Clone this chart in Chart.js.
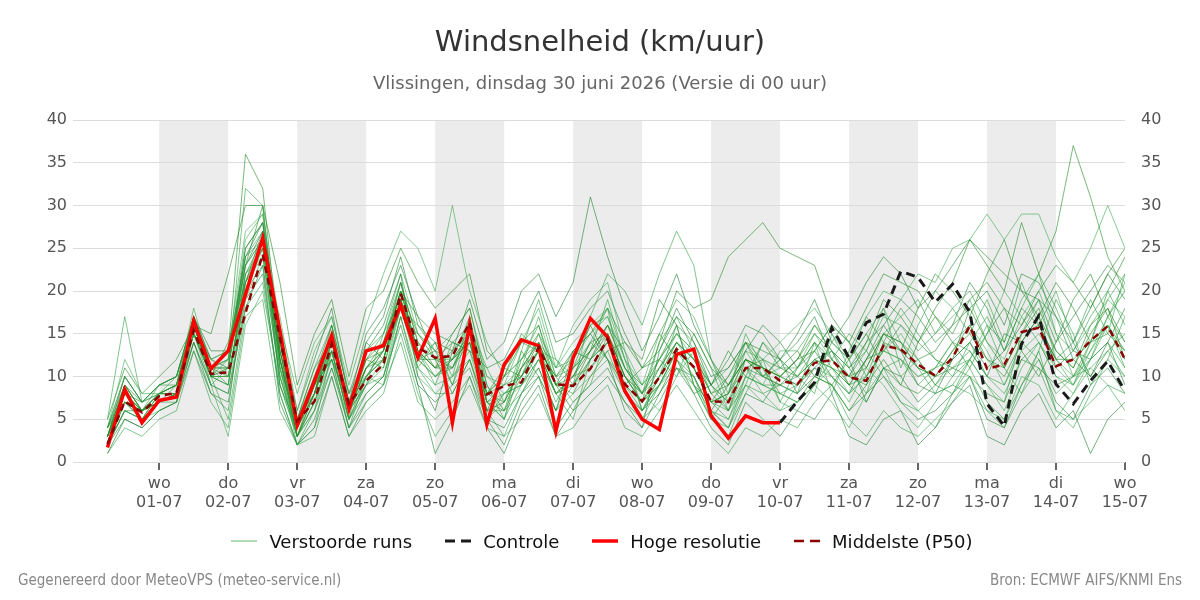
<!DOCTYPE html>
<html>
<head>
<meta charset="utf-8">
<script src="https://cdn.jsdelivr.net/npm/chart.js@4.4.1/dist/chart.umd.min.js"></script>
<style>
  body { margin: 0; background: #fff; font-family: "DejaVu Sans", sans-serif; }
  #wrap { position: relative; width: 1200px; height: 600px; }
  #chart { position: absolute; left: 0; top: 0; }
  .title { position: absolute; left: 0; width: 1200px; text-align: center; }
  #t1 { top: 24px; font-size: 29px; line-height: 34px; color: #333; }
  #t2 { top: 73px; font-size: 18px; line-height: 20px; color: #666; }
  .foot { position: absolute; top: 571px; font-size: 15px; line-height: 18px; color: #888;
          font-family: "DejaVu Sans Condensed", "DejaVu Sans", sans-serif; font-stretch: condensed; }
  #legend { position: absolute; top: 530px; left: 2px; width: 1200px; height: 22px;
            display: flex; justify-content: center; align-items: center; gap: 33px;
            font-size: 18px; color: #111; }
  #legend .item { display: flex; align-items: center; white-space: nowrap; }
  #legend svg { margin-right: 12px; }
</style>
</head>
<body>
<div id="wrap">
  <canvas id="chart" width="1200" height="600"></canvas>
  <div class="title" id="t1">Windsnelheid (km/uur)</div>
  <div class="title" id="t2">Vlissingen, dinsdag 30 juni 2026 (Versie di 00 uur)</div>
  <div id="legend"></div>
  <div class="foot" style="left:18px">Gegenereerd door MeteoVPS (meteo-service.nl)</div>
  <div class="foot" style="right:18px">Bron: ECMWF AIFS/KNMI Ens</div>
</div>
<script>
// time axis in hours since 30-06 00:00, one value every 6 hours from +6h
const hours = [];
for (let h = 6; h <= 360; h += 6) hours.push(h);

const tickHours = [24, 48, 72, 96, 120, 144, 168, 192, 216, 240, 264, 288, 312, 336, 360];
const dayNames = ['wo', 'do', 'vr', 'za', 'zo', 'ma', 'di', 'wo', 'do', 'vr', 'za', 'zo', 'ma', 'di', 'wo'];
const dayDates = ['01-07', '02-07', '03-07', '04-07', '05-07', '06-07', '07-07', '08-07',
                  '09-07', '10-07', '11-07', '12-07', '13-07', '14-07', '15-07'];
const shadedDays = [[24, 48], [72, 96], [120, 144], [168, 192], [216, 240], [264, 288], [312, 336]];

// hoge resolutie: +6h .. +240h
const hres = [1.7, 8.5, 4.6, 7.2, 7.6, 16.5, 10.9, 13.0, 19.6, 26.2,
              15.3, 4.3, 9.5, 14.8, 6.2, 13.0, 13.6, 18.3, 12.2, 16.8,
              4.6, 16.1, 4.4, 11.4, 14.3, 13.6, 3.6, 12.2, 16.8, 14.6,
              8.3, 5.0, 3.8, 12.6, 13.2, 5.4, 2.8, 5.4, 4.6, 4.6];
// controle: +240h .. +360h
const controlStart = 240;
const control = [4.6, 7.1, 9.3, 15.7, 12.2, 16.3, 17.3, 22.3, 21.6, 18.7, 20.8,
                 17.5, 6.8, 4.2, 13.8, 17.1, 9.1, 6.8, 9.5, 11.8, 8.3];
// mediaan van de runs
const p50 = [2.1, 7.1, 5.8, 7.7, 8.1, 15.4, 10.3, 10.5, 17.4, 24.3,
             14.5, 4.8, 7.1, 13.8, 6.8, 9.5, 11.4, 19.7, 13.4, 12.2,
             12.4, 16.3, 7.9, 8.9, 9.3, 13.4, 9.1, 8.9, 10.9, 14.4,
             9.1, 7.1, 9.9, 13.2, 11.1, 7.1, 7.0, 11.0, 11.0, 9.5,
             9.1, 11.6, 11.9, 9.9, 9.5, 13.6, 13.2, 11.4, 10.1, 12.2,
             15.9, 10.9, 11.4, 15.2, 15.7, 11.2, 12.0, 14.2, 15.9, 12.0];

// verstoorde runs (schatting per run)
const runs = [
  [3,9,6,8,9,16,11,13,36,32, 13,3,8,15,6,11,13,21,14,11, 15,18,9,6,12,15,9,8,12,15, 10,7,11,14,12,8,6,12,10,9, 11,14,12,9,12,15,14,11,10,13, 16,12,10,14,17,13,11,16,18,12],
  [5,17,7,9,10,17,9,11,32,30, 11,2,4,13,5,9,12,18,12,14, 10,17,7,5,9,13,12,10,14,18, 8,5,9,13,10,5,3,8,12,10, 9,12,13,11,8,14,18,15,12,10, 14,17,13,18,22,15,10,12,17,14],
  [1,5,4,6,7,14,8,6,21,27, 9,4,9,12,7,13,16,22,10,6, 13,15,5,4,8,11,6,13,15,12, 6,4,13,18,14,9,12,16,15,12, 8,10,14,12,7,11,10,7,9,12, 18,20,16,22,21,17,12,10,14,9],
  [2,7,5,8,8,15,12,10,19,24, 17,6,13,17,8,10,9,17,15,13, 11,16,10,9,11,17,10,7,9,15, 11,8,6,10,13,6,4,10,9,8, 7,9,11,8,10,13,15,12,9,11, 12,9,7,15,19,12,9,14,19,22],
  [4,8,6,7,8,16,10,9,22,26, 12,5,11,14,6,12,13,20,17,12, 8,12,6,10,14,16,9,6,10,13, 14,12,19,16,9,7,10,14,11,10, 12,16,13,11,14,19,17,14,18,21, 26,23,20,28,22,27,37,31,24,20],
  [2,6,5,7,7,15,10,5,18,21, 8,2,3,10,3,6,8,15,8,3, 6,9,4,3,5,8,3,4,7,9, 4,3,6,9,6,3,1,4,3,5, 4,7,9,5,3,6,4,3,5,7, 10,6,4,8,11,6,5,7,9,8],
  [3,10,7,9,10,17,13,13,24,28, 14,4,10,16,8,14,17,24,16,14, 13,19,12,14,20,22,17,21,31,24, 18,13,17,22,16,12,9,13,16,14, 11,13,10,8,12,16,13,9,8,12, 14,11,13,18,16,12,14,10,13,15],
  [4,12,8,8,9,18,11,12,26,29, 16,8,14,17,9,16,22,27,25,20, 30,20,14,10,12,14,11,16,19,21, 13,9,15,19,17,12,7,11,8,6, 9,12,10,7,11,9,6,4,7,10, 12,9,6,11,14,10,8,12,16,11],
  [2,7,6,7,8,16,10,10,20,25, 12,3,7,13,5,10,12,19,12,10, 12,14,6,7,11,13,8,10,13,16, 11,8,14,20,18,19,24,26,28,25, 24,23,17,14,18,22,21,20,17,15, 19,21,18,16,20,23,21,18,22,25],
  [3,8,6,8,9,16,11,11,23,26, 10,3,6,14,6,9,11,19,13,9, 14,16,9,5,13,19,12,9,17,22, 20,16,22,27,23,12,8,15,11,7, 6,9,12,15,13,10,8,6,4,8, 11,7,5,9,13,6,4,8,12,10],
  [2,6,5,7,8,14,9,8,18,23, 7,2,5,11,4,8,10,16,9,7, 9,11,5,2,7,10,4,7,9,11, 7,5,7,11,8,4,2,7,5,3, 6,5,8,3,2,5,6,2,4,7, 9,3,2,6,8,4,6,1,5,7],
  [3,9,6,8,9,16,11,12,24,27, 11,4,9,15,6,13,15,21,14,12, 12,17,8,9,14,18,11,12,15,17, 12,9,11,15,12,8,10,13,12,14, 16,18,15,12,17,20,19,22,21,25, 26,29,26,29,29,24,21,25,30,25],
  [4,7,6,8,8,15,10,14,21,25, 13,5,10,14,7,11,12,19,13,11, 11,15,8,11,10,14,9,10,11,14, 9,7,10,13,11,7,8,11,12,11, 10,12,11,10,9,14,13,11,10,13, 15,12,11,15,16,12,12,14,16,13],
  [1,4,3,5,6,13,7,4,17,19, 6,2,6,12,4,7,9,14,7,5, 7,10,5,8,9,12,7,11,14,12, 8,6,9,12,9,6,5,9,8,9, 8,14,11,9,7,11,12,9,11,14, 13,10,9,14,12,8,10,11,13,10],
  [3,8,7,9,10,17,12,11,25,28, 15,6,12,18,7,15,18,23,17,15, 14,13,11,12,16,20,14,15,18,20, 15,11,12,16,14,10,11,14,13,12, 15,19,14,17,21,24,22,18,20,23, 26,24,22,20,19,17,14,18,22,19],
  [2,6,5,6,7,14,9,3,16,20, 9,3,7,13,5,8,10,18,11,8, 8,12,5,7,9,11,6,8,10,12, 10,8,12,15,13,9,6,10,9,13, 13,16,14,12,15,18,14,11,8,9, 12,15,20,17,14,11,9,13,17,21],
  [5,11,8,10,12,16,15,22,30,30, 21,9,15,19,10,18,20,25,21,18, 20,22,13,11,14,13,10,13,15,18, 14,11,13,17,15,11,9,12,11,8, 7,10,9,6,9,12,9,8,10,11, 10,8,7,12,11,9,10,14,15,13],
  [3,8,6,9,9,15,11,9,22,24, 10,3,7,12,4,10,13,20,12,10, 12,15,6,3,8,12,8,5,12,14, 9,7,14,17,13,9,11,14,10,12, 10,13,16,14,10,15,17,19,15,18, 20,16,14,19,22,18,13,17,20,16],
  [2,5,4,6,7,13,8,7,19,22, 8,2,4,10,3,7,9,17,9,1, 5,10,4,1,6,9,3,6,8,10, 7,4,8,11,10,6,4,8,7,10, 9,11,9,6,8,10,7,5,6,8, 10,5,4,9,12,7,5,9,11,8],
  [4,10,7,8,10,17,12,13,27,29, 13,5,11,16,8,12,15,22,15,13, 15,18,10,8,10,15,11,14,16,18, 12,8,10,14,12,9,7,13,10,11, 11,15,12,10,13,17,16,13,15,17, 19,14,12,17,20,15,13,16,19,17],
  [3,9,6,7,8,16,10,12,23,30, 12,4,8,14,6,11,14,20,13,11, 13,16,7,6,10,13,9,9,13,15, 10,7,9,13,11,7,8,12,11,10, 12,15,13,10,11,15,14,12,13,16, 18,14,11,15,18,13,11,15,18,14],
  [2,7,5,8,8,15,10,9,21,24, 11,3,9,13,6,12,11,18,16,13, 9,14,8,10,12,16,10,11,16,17, 11,9,12,10,15,11,6,9,14,12, 10,8,15,11,13,18,11,16,20,18, 15,19,14,21,16,20,14,19,15,22],
  [4,9,7,8,9,17,11,11,24,26, 14,5,8,15,7,12,14,21,12,12, 11,15,7,5,11,14,9,13,12,16, 13,6,8,12,10,6,9,12,10,9, 8,11,13,9,12,13,16,14,12,11, 13,10,15,14,17,11,13,12,14,18],
  [3,7,6,8,9,16,10,10,20,23, 10,4,9,12,6,10,12,18,11,9, 10,13,6,8,9,12,8,9,12,14, 9,6,10,14,11,7,5,10,9,8, 9,11,10,8,10,13,12,10,11,14, 16,13,9,13,15,12,10,13,16,12],
  [3,8,5,7,9,15,11,12,25,28, 12,3,8,13,5,14,12,20,15,12, 14,13,8,10,15,13,10,12,16,12, 9,11,15,12,8,9,13,10,14,11, 13,10,9,12,15,11,9,14,17,14, 11,15,18,13,10,14,19,22,17,20],
  [2,6,6,8,8,15,9,8,20,26, 14,4,8,16,6,9,15,19,11,14, 9,16,11,7,13,10,6,11,13,19, 12,6,10,16,9,5,8,14,12,7, 11,14,8,13,17,14,10,12,9,8, 12,16,11,8,13,19,15,9,12,17],
  [4,10,7,9,10,16,12,13,23,27, 11,5,9,14,7,10,13,18,12,13, 12,14,7,9,10,13,8,10,14,15, 10,8,11,14,12,9,7,11,10,12, 14,17,12,10,14,16,19,17,14,16, 21,18,13,16,19,14,17,20,23,21],
  [3,7,5,8,9,16,10,11,22,25, 9,3,6,11,5,9,10,17,10,8, 10,12,6,6,8,10,6,9,11,13, 8,6,9,11,9,5,4,9,7,6, 7,9,7,4,8,11,7,6,8,9, 8,6,5,10,9,5,8,11,9,6],
  [2,9,6,8,8,16,11,10,21,26, 13,4,9,15,6,11,13,20,13,11, 12,15,8,7,11,14,9,11,13,16, 11,8,12,15,13,8,9,12,11,10, 12,13,16,14,11,15,13,18,22,20, 17,22,26,20,17,21,18,14,20,24],
  [3,8,6,7,8,15,10,11,23,26, 12,4,8,14,6,10,12,19,13,10, 11,14,7,8,10,13,8,9,12,14, 10,7,9,13,11,7,6,11,9,9, 10,12,11,9,10,13,12,10,11,12, 14,10,8,12,14,10,9,12,14,11]
];

const greens = ['rgba(34,139,34,0.6)', 'rgba(46,160,67,0.6)', 'rgba(30,130,50,0.6)', 'rgba(60,170,80,0.6)'];

const datasets = runs.map((vals, i) => ({
  label: i === 0 ? 'Verstoorde runs' : 'run ' + (i + 1),
  inLegend: i === 0,
  legendColor: 'rgba(80,180,90,0.9)',
  data: vals.map((v, k) => ({ x: hours[k], y: v })),
  borderColor: greens[i % greens.length],
  borderWidth: 1,
  pointRadius: 0,
  order: 4
}));

datasets.push({
  label: 'Controle',
  inLegend: true,
  legendDash: '10 6',
  data: control.map((v, k) => ({ x: controlStart + k * 6, y: v })),
  borderColor: '#1a1a1a',
  borderWidth: 3,
  borderDash: [9, 6],
  pointRadius: 0,
  order: 2
});
datasets.push({
  label: 'Hoge resolutie',
  inLegend: true,
  data: hres.map((v, k) => ({ x: hours[k], y: v })),
  borderColor: '#ff0000',
  borderWidth: 3.5,
  pointRadius: 0,
  order: 1
});
datasets.push({
  label: 'Middelste (P50)',
  inLegend: true,
  legendDash: '10 6',
  data: p50.map((v, k) => ({ x: hours[k], y: v })),
  borderColor: '#8b0000',
  borderWidth: 2.5,
  borderDash: [7, 5],
  pointRadius: 0,
  order: 0
});

// legend as html, built from the datasets
const legendEl = document.getElementById('legend');
datasets.filter(ds => ds.inLegend).forEach(ds => {
  const color = ds.legendColor || ds.borderColor;
  const dash = ds.legendDash || 'none';
  const item = document.createElement('div');
  item.className = 'item';
  item.innerHTML = '<svg width="26" height="10"><line x1="0" y1="5" x2="26" y2="5" stroke="' + color +
    '" stroke-width="' + ds.borderWidth + '" stroke-dasharray="' + dash + '"/></svg><span></span>';
  item.querySelector('span').textContent = ds.label;
  legendEl.appendChild(item);
});

const dayBands = {
  id: 'dayBands',
  beforeDraw(chart) {
    const { ctx, chartArea, scales } = chart;
    ctx.save();
    ctx.fillStyle = '#ececec';
    shadedDays.forEach(([a, b]) => {
      const x1 = scales.x.getPixelForValue(a);
      const x2 = scales.x.getPixelForValue(b);
      ctx.fillRect(x1, chartArea.top, x2 - x1, chartArea.bottom - chartArea.top);
    });
    ctx.restore();
  }
};

Chart.defaults.font.family = '"DejaVu Sans", sans-serif';

new Chart(document.getElementById('chart'), {
  type: 'line',
  data: { datasets },
  plugins: [dayBands],
  options: {
    responsive: false,
    animation: false,
    devicePixelRatio: 1,
    layout: { padding: { top: 120, bottom: 78, left: 0, right: 0 } },
    plugins: {
      tooltip: { enabled: false },
      legend: { display: false }
    },
    scales: {
      x: {
        type: 'linear',
        min: -6,
        max: 360,
        afterBuildTicks: s => { s.ticks = tickHours.map(v => ({ value: v })); },
        afterFit: s => { s.height = 60; },
        ticks: {
          autoSkip: false,
          maxRotation: 0,
          padding: 4,
          color: '#555',
          font: { size: 16 },
          callback: v => {
            const i = tickHours.indexOf(v);
            return i < 0 ? '' : [dayNames[i], dayDates[i]];
          }
        },
        grid: { drawOnChartArea: false, color: '#666', lineWidth: 2, tickLength: 8 },
        border: { display: false }
      },
      y: {
        position: 'left',
        min: 0,
        max: 40,
        afterFit: s => { s.width = 73; },
        ticks: { stepSize: 5, padding: 6, color: '#555', font: { size: 16 } },
        grid: { color: '#dcdcdc', drawTicks: false },
        border: { display: false }
      },
      y2: {
        position: 'right',
        min: 0,
        max: 40,
        afterFit: s => { s.width = 75; },
        ticks: { stepSize: 5, padding: 8, color: '#555', font: { size: 16 } },
        grid: { display: false },
        border: { display: false }
      }
    }
  }
});
</script>
</body>
</html>
